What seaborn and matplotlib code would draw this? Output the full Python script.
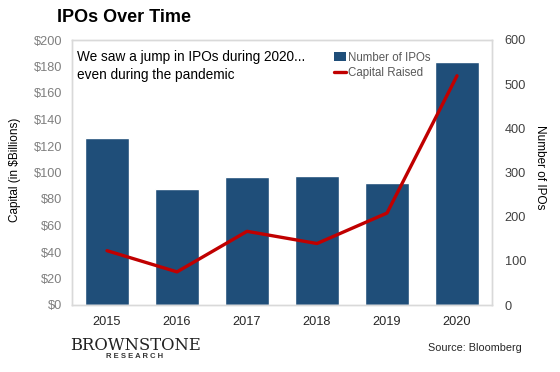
import matplotlib
matplotlib.use("Agg")
import matplotlib.pyplot as plt
import seaborn as sns
import pandas as pd
from matplotlib.patches import Patch
from matplotlib.lines import Line2D

years = ["2015", "2016", "2017", "2018", "2019", "2020"]
num_ipos = [379, 262, 289, 293, 276, 551]
capital = [41, 25, 55.6, 46.4, 69.4, 173]
left_ticks = [0, 20, 40, 60, 80, 100, 120, 140, 160, 180, 200]
right_ticks = [0, 100, 200, 300, 400, 500, 600]

sns.set_theme(style="white")
plt.rcParams['font.family'] = ['Liberation Sans', 'DejaVu Sans']

df = pd.DataFrame({"year": years, "ipos": num_ipos, "capital": capital})

fig = plt.figure(figsize=(5.6, 3.72), dpi=100)
ax = fig.add_axes([72/560, 1-305/372, 420/560, 265/372])
sns.barplot(data=df, x="year", y="ipos", ax=ax, color="#1f4e79", width=0.64,
            saturation=1, errorbar=None)
ax.set_ylim(0, 600)
ax.set_xlim(-0.5, 5.5)
ax2 = ax.twinx()
sns.pointplot(data=df, x="year", y="capital", ax=ax2, color="#c00000",
              markers="", linewidth=2.4, errorbar=None)
ax2.set_ylim(0, 200)
ax2.set_xlim(-0.5, 5.5)

ax.yaxis.tick_right()
ax2.yaxis.tick_left()

ax.set_yticks(right_ticks)
ax.set_yticklabels([str(t) for t in right_ticks], color="#404040", fontsize=9.2)
ax2.set_yticks(left_ticks)
ax2.set_yticklabels([f"${t}" for t in left_ticks], color="#7f7f7f", fontsize=9.2)
ax.set_xticks(range(len(years)))
ax.set_xticklabels(years, color="#262626", fontsize=9.2)
ax.tick_params(axis="y", length=0, pad=9)
ax.tick_params(axis="x", length=0, pad=8)
ax2.tick_params(axis="both", length=0, pad=7)
ax.set_xlabel("")
ax.set_ylabel("")
ax2.set_ylabel("")
ax2.set_xlabel("")

for a in (ax, ax2):
    for s in a.spines.values():
        s.set_color("#d9d9d9")
        s.set_linewidth(1)

fig.text(15/560, 1-170/372, "Capital (in $Billions)", rotation=90, fontsize=8.5,
         va="center", ha="center", color="black")
fig.text(540/560, 1-167/372, "Number of IPOs", rotation=270, fontsize=8.5,
         va="center", ha="center", color="black")

fig.text(57/560, 1-17/372, "IPOs Over Time", fontsize=13, fontweight="bold",
         va="center", ha="left", color="black")
fig.text(77/560, 1-66/372, "We saw a jump in IPOs during 2020...\neven during the pandemic",
         fontsize=9.8, va="center", ha="left", color="black", linespacing=1.3)

handles = [Patch(facecolor="#1f4e79", edgecolor="none"),
           Line2D([0], [0], color="#c00000", lw=2.4)]
fig.legend(handles, ["Number of IPOs", "Capital Raised"], loc="upper left",
           bbox_to_anchor=(328/560, 1-46/372), frameon=False, fontsize=8.3,
           labelcolor="#595959", handlelength=1.1, handletextpad=0.1,
           borderpad=0, labelspacing=0.3, handleheight=0.8)

fig.text(70/560, 1-346/372, "BROWNSTONE", fontsize=11.8, family="DejaVu Serif",
         va="center", ha="left", color="#222222")
fig.text(135/560, 1-357/372, "R E S E A R C H", fontsize=5.5, fontweight="bold",
         va="center", ha="center", color="#333333")
fig.text(522/560, 1-348/372, "Source: Bloomberg", fontsize=7.8, va="center",
         ha="right", color="#262626")

fig.savefig("out.png", dpi=100)
